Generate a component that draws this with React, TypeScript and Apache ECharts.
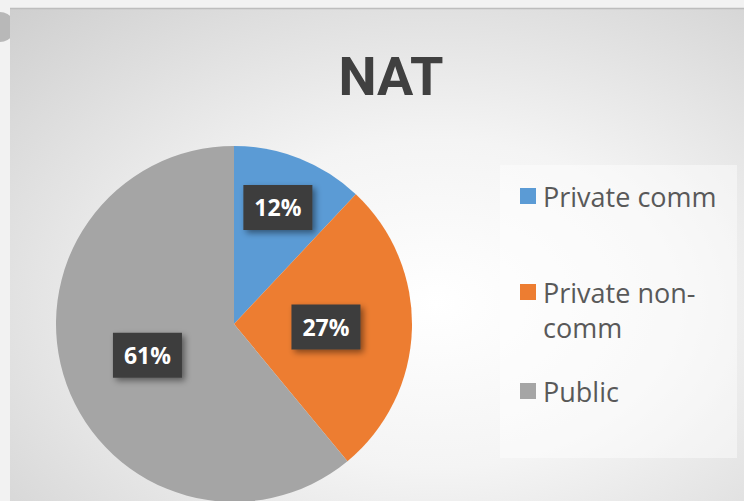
import React, { useEffect, useRef } from "react";
import * as echarts from "echarts";

const titleText = "NAT";
const categories = ["Private comm", "Private non-comm", "Public"];
const values = [12, 27, 61];
const colors = ["#5B9BD5", "#ED7D31", "#A5A5A5"];
const legendLabels = ["Private comm", "\u00a0\nPrivate non-\ncomm", "Public"];

export default function App() {
  const ref = useRef<HTMLDivElement>(null);
  useEffect(() => {
    document.body.style.margin = "0";
    document.body.style.background = "#f2f2f2";
    if (!ref.current) return;
    const chart = echarts.init(ref.current, undefined, { renderer: "svg" });

    // icon centre targets: 196, 292, 391 ; item heights 35, 105, 35
    const legendTops = [178.5, 239.5, 373.5];
    const legends = categories.map((name, i) => ({
      data: [name],
      left: 520,
      top: legendTops[i],
      padding: 0,
      orient: "vertical",
      icon: "rect",
      itemWidth: 16,
      itemHeight: 16,
      itemGap: 0,
      selectedMode: false,
      formatter: () => legendLabels[i],
      textStyle: {
        fontFamily: "Open Sans",
        fontSize: 27,
        color: "#595959",
        lineHeight: 35,
        padding: [0, 0, 0, 2],
      },
    }));

    chart.setOption({
      animation: false,
      backgroundColor: "transparent",
      title: {
        text: titleText,
        left: 386,
        top: 44,
        textAlign: "center",
        textStyle: {
          fontFamily: "Roboto",
          fontWeight: "bold",
          fontSize: 54,
          color: "#404040",
        },
      },
      graphic: [
        {
          type: "rect",
          z: -10,
          silent: true,
          shape: { x: 0, y: 0, width: 744, height: 501 },
          style: { fill: "#f2f2f2" },
        },
        {
          type: "circle",
          z: -9,
          silent: true,
          shape: { cx: 0, cy: 27, r: 15 },
          style: { fill: "#b8b8b8" },
        },
        {
          type: "rect",
          z: -9,
          silent: true,
          shape: { x: 10, y: 8, width: 734, height: 493 },
          style: {
            fill: {
              type: "radial",
              x: 0.58,
              y: 0.6,
              r: 0.95,
              colorStops: [
                { offset: 0, color: "#ffffff" },
                { offset: 0.35, color: "#f4f4f4" },
                { offset: 1, color: "#c6c6c6" },
              ],
            },
          },
        },
        {
          type: "line",
          z: -8,
          silent: true,
          shape: { x1: 10, y1: 8.5, x2: 744, y2: 8.5 },
          style: { stroke: "#bdbdbd", lineWidth: 1.5 },
        },
        {
          type: "rect",
          z: -7,
          silent: true,
          shape: { x: 500, y: 165, width: 237, height: 293 },
          style: { fill: "rgba(255,255,255,0.45)" },
        },
      ],
      legend: legends,
      series: [
        {
          type: "pie",
          center: [234, 324],
          radius: 178,
          startAngle: 90,
          clockwise: true,
          silent: true,
          data: categories.map((name, i) => ({
            name,
            value: values[i],
            itemStyle: { color: colors[i] },
          })),
          label: {
            show: true,
            position: "inside",
            formatter: (p: any) => `${p.value}%`,
            color: "#ffffff",
            fontFamily: "Open Sans",
            fontWeight: "bold",
            fontSize: 23,
            backgroundColor: "#3d3d3d",
            padding: [11, 11, 11, 11],
            shadowColor: "rgba(0,0,0,0.45)",
            shadowBlur: 6,
            shadowOffsetX: 3,
            shadowOffsetY: 3,
          },
          labelLine: { show: false },
          labelLayout: (params: any) =>
            params.dataIndex === 0 ? { dx: 10, dy: -31 } : {},
        },
      ],
    });
    return () => chart.dispose();
  }, []);
  return <div ref={ref} style={{ width: 744, height: 501 }} />;
}
